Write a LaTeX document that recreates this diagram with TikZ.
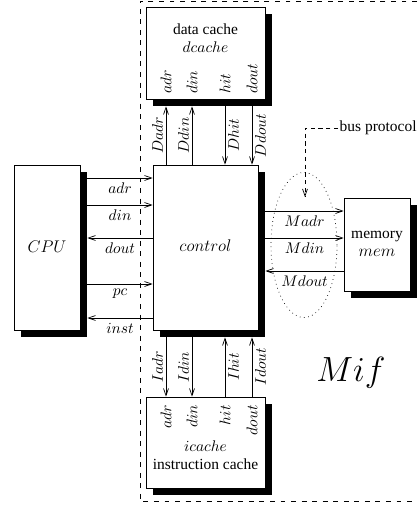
\documentclass[tikz,border=0pt]{standalone}
\usepackage{fontspec}
\setmainfont{Liberation Serif}
\usepackage{tikz}
\usetikzlibrary{arrows.meta,shapes.geometric,shadows,calc}

\begin{document}
\begin{tikzpicture}[x=0.025cm,y=-0.025cm,
  blk/.style={draw,fill=white,line width=0.5pt,inner sep=0pt,
              drop shadow={shadow xshift=5pt,shadow yshift=-5pt,fill=black,opacity=1}},
  sig/.style={font=\fontsize{11}{13}\selectfont},
  port/.style={sig,rotate=90,inner sep=0pt},
  lbl/.style={sig,rotate=90,inner sep=2pt},
  arr/.style={-{Straight Barb[length=5pt,width=3.5pt]},line width=0.5pt},
  frame/.style={dash pattern=on 3.5pt off 4pt,line width=0.5pt}
]
  \useasboundingbox (0,0) rectangle (417,506);

  % Mif boundary (open to the right)
  \draw[frame] (417,1) -- (140,1) -- (140,501) -- (417,501);

  % Boxes: data cache on top, control in the middle, icache below, CPU left, memory right
  \node[blk,minimum width=2.975cm,minimum height=2.3cm]   (dcache) at (205.5,53)    {};
  \node[blk,minimum width=2.625cm,minimum height=4.125cm] (ctrl)   at (205.5,247.5) {};
  \node[blk,minimum width=2.975cm,minimum height=2.275cm] (icache) at (205.5,442.5) {};
  \node[blk,minimum width=1.65cm,minimum height=4.125cm]  (cpu)    at (47,247.5)    {};
  \node[blk,minimum width=1.65cm,minimum height=2.325cm]  (mem)    at (377,244.5)   {};

  % Box texts
  \node[sig,align=center] (d-txt) at (205.5,38)  {data cache\\[0pt]$dcache$};
  \node[sig,align=center] (i-txt) at (205.5,455) {$icache$\\[0pt]instruction cache};
  \node[font=\large] (c-txt) at (205.5,246) {$control$};
  \node[font=\large] (p-txt) at (47,247)    {$CPU$};
  \node[sig,align=center] (m-txt) at (377,243.5) {memory\\[0pt]{\large$mem$}};
  \node (mif) at (351,373) {\fontsize{24}{28}\selectfont$Mif$};

  % Ports of the data cache (read upwards from the bottom edge)
  \node[port,anchor=west] (d-adr)  at (166,94) {$adr$};
  \node[port,anchor=west] (d-din)  at (192,94) {$din$};
  \node[port,anchor=west] (d-hit)  at (225,94) {$hit$};
  \node[port,anchor=west] (d-dout) at (252,94) {$dout$};

  % Ports of the instruction cache (hanging from the top edge)
  \node[port,anchor=east] (i-adr)  at (166,405) {$adr$};
  \node[port,anchor=east] (i-din)  at (192,405) {$din$};
  \node[port,anchor=east] (i-hit)  at (225,405) {$hit$};
  \node[port,anchor=east] (i-dout) at (252,405) {$dout$};

  % control <-> data cache
  \draw[arr] (ctrl.north -| d-adr) -- node[lbl,anchor=south] {$Dadr$} ($(dcache.south -| d-adr)+(0,-5pt)$);
  \draw[arr] (ctrl.north -| d-din) -- node[lbl,anchor=south] {$Ddin$} ($(dcache.south -| d-din)+(0,-5pt)$);
  \draw[arr] ($(dcache.south -| d-hit)+(0,-5pt)$) -- node[lbl,anchor=north] {$Dhit$} (ctrl.north -| d-hit);
  \draw[arr] ($(dcache.south -| d-dout)+(0,-5pt)$) -- node[lbl,anchor=north] {$Ddout$} (ctrl.north -| d-dout);

  % control <-> instruction cache
  \draw[arr] ($(ctrl.south -| i-adr)+(0,-5pt)$) -- node[lbl,anchor=south] {$Iadr$} (icache.north -| i-adr);
  \draw[arr] ($(ctrl.south -| i-din)+(0,-5pt)$) -- node[lbl,anchor=south] {$Idin$} (icache.north -| i-din);
  \draw[arr] (icache.north -| i-hit) -- node[lbl,anchor=north] {$Ihit$} ($(ctrl.south -| i-hit)+(0,-5pt)$);
  \draw[arr] (icache.north -| i-dout) -- node[lbl,anchor=north] {$Idout$} ($(ctrl.south -| i-dout)+(0,-5pt)$);

  % CPU <-> control
  \foreach \n/\y in {adr/178,din/205,dout/238,pc/284,inst/318}
    \coordinate (c-\n) at (120,\y);
  \draw[arr] ($(cpu.east |- c-adr)+(5pt,0)$) -- node[sig,below] {$adr$} (ctrl.west |- c-adr);
  \draw[arr] ($(cpu.east |- c-din)+(5pt,0)$) -- node[sig,below] {$din$} (ctrl.west |- c-din);
  \draw[arr] (ctrl.west |- c-dout) -- node[sig,below] {$dout$} ($(cpu.east |- c-dout)+(5pt,0)$);
  \draw[arr] ($(cpu.east |- c-pc)+(5pt,0)$) -- node[sig,below] {$pc$} (ctrl.west |- c-pc);
  \draw[arr] (ctrl.west |- c-inst) -- node[sig,below] {$inst$} ($(cpu.east |- c-inst)+(5pt,0)$);

  % control <-> memory
  \foreach \n/\y in {adr/211,din/238,dout/271}
    \coordinate (m-\n) at (304,\y);
  \draw[arr] ($(ctrl.east |- m-adr)+(5pt,0)$) -- node[sig,below] {$Madr$} (mem.west |- m-adr);
  \draw[arr] ($(ctrl.east |- m-din)+(5pt,0)$) -- node[sig,below] {$Mdin$} (mem.west |- m-din);
  \draw[arr] (mem.west |- m-dout) -- node[sig,below] {$Mdout$} ($(ctrl.east |- m-dout)+(5pt,0)$);

  % bus protocol
  \node[ellipse,draw,dash pattern=on 0.5pt off 2.5pt,line width=0.5pt,
        minimum width=1.65cm,minimum height=3.625cm] (bus) at (304,245) {};
  \node[sig,anchor=west,inner sep=1pt] (proto) at (338,128) {bus protocol};
  \coordinate (bus-in) at (305,197);
  \draw[arr,dash pattern=on 3pt off 2.5pt] (proto.west) -| (bus-in);
\end{tikzpicture}
\end{document}
